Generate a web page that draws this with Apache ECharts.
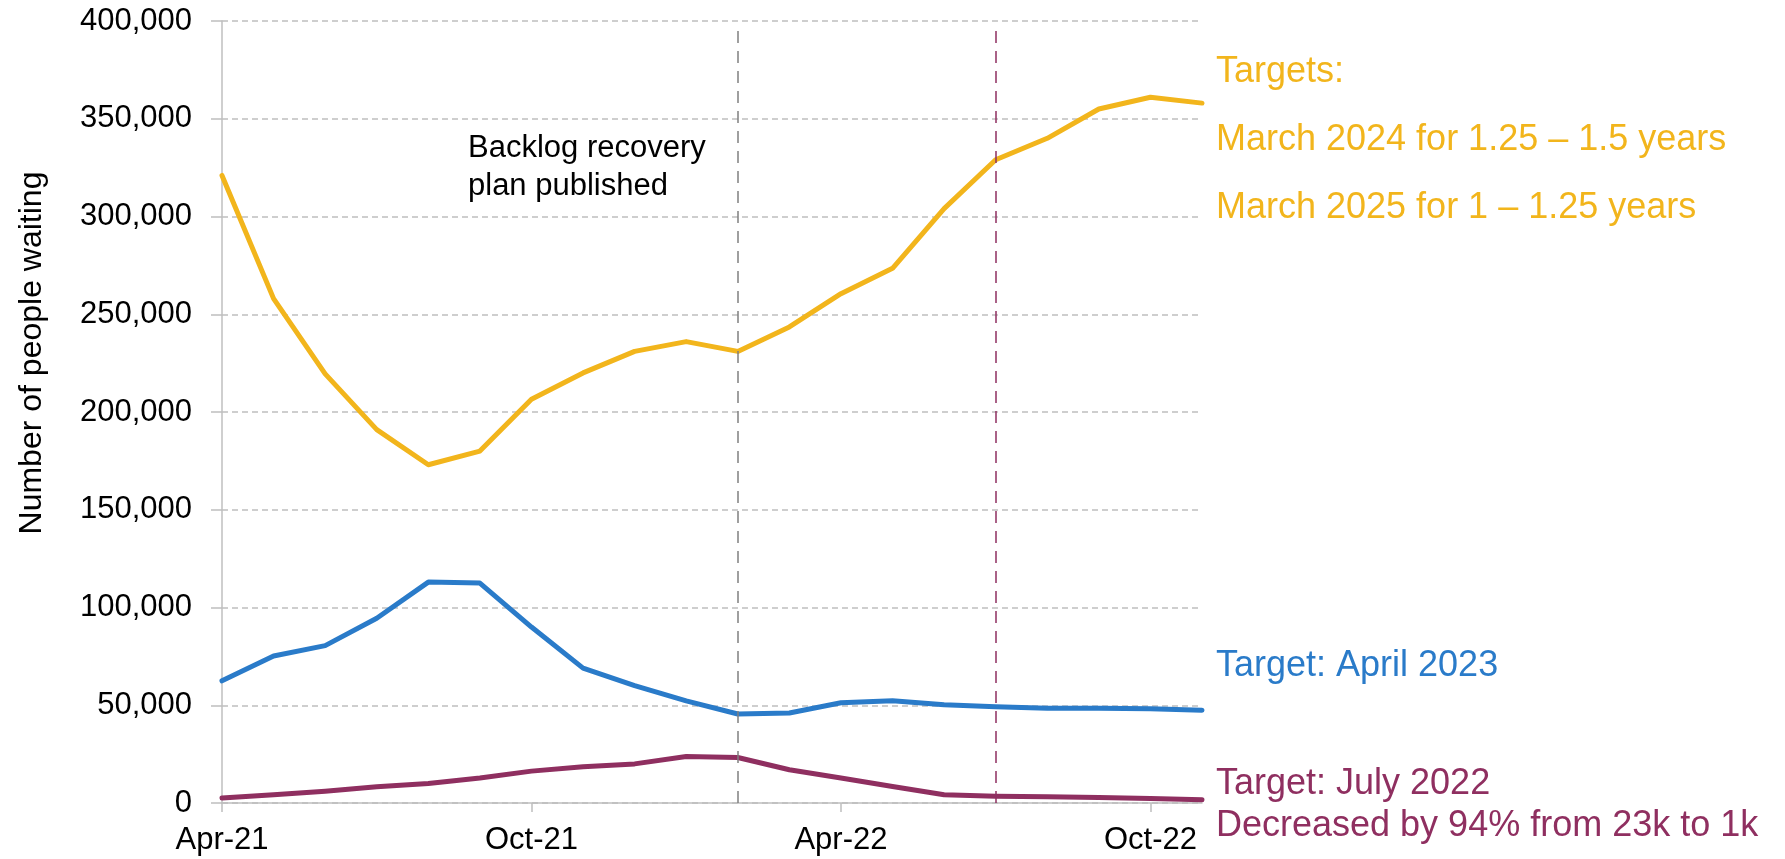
<!DOCTYPE html>
<html>
<head>
    <meta charset="utf-8">
    <script src="https://cdn.jsdelivr.net/npm/echarts@6/dist/echarts.min.js"></script>
    <style>
        html, body {margin: 0; padding: 0; background: #fff;}
        #main {width: 1785px; height: 859px;}
    </style>
</head>
<body>
<div id="main"></div>
<script type="text/javascript">
    // months, Apr-21 .. Nov-22
    var months = ['Apr-21', 'May-21', 'Jun-21', 'Jul-21', 'Aug-21', 'Sep-21', 'Oct-21', 'Nov-21', 'Dec-21', 'Jan-22',
        'Feb-22', 'Mar-22', 'Apr-22', 'May-22', 'Jun-22', 'Jul-22', 'Aug-22', 'Sep-22', 'Oct-22', 'Nov-22'];

    // number of people waiting
    var yellowWaits = [321000, 258000, 219500, 191000, 173000, 180000, 206500, 220000, 231000, 236000,
        231000, 243500, 260500, 273500, 304000, 329000, 340000, 355000, 361000, 358000];
    var blueWaits = [62500, 75200, 80500, 94500, 113000, 112500, 90000, 69000, 60000, 52200,
        45500, 46000, 51300, 52300, 50200, 49200, 48500, 48500, 48200, 47500];
    var maroonWaits = [2500, 4200, 6000, 8300, 10000, 12800, 16300, 18600, 20000, 23800,
        23300, 17000, 12800, 8400, 4200, 3500, 3200, 2800, 2300, 1600];

    var yTicks = [0, 50000, 100000, 150000, 200000, 250000, 300000, 350000, 400000];
    var planMonth = 'Feb-22';
    var julyTargetMonth = 'Jul-22';

    var yellow = '#F2B51C', blue = '#2A7BC9', maroon = '#8F2F60';
    var font = '"Liberation Sans", Arial, sans-serif';

    var myChart = echarts.init(document.getElementById('main'));

    myChart.setOption({
        animation: false,
        grid: {left: 222, right: 583, top: 21, bottom: 56},
        xAxis: {
            type: 'category',
            data: months,
            boundaryGap: false,
            axisLine: {lineStyle: {color: '#BFBFBF', width: 1.5}},
            axisTick: {interval: 5, length: 9, lineStyle: {color: '#BFBFBF', width: 1.5}},
            axisLabel: {interval: 5, margin: 22, color: '#000', fontSize: 31, fontFamily: font},
            splitLine: {show: false}
        },
        yAxis: {
            type: 'value',
            min: yTicks[0],
            max: yTicks[yTicks.length - 1],
            interval: 50000,
            axisLine: {show: true, lineStyle: {color: '#BFBFBF', width: 1.5}},
            axisTick: {show: true, length: 11, lineStyle: {color: '#BFBFBF', width: 1.5}},
            axisLabel: {
                margin: 30, color: '#000', fontSize: 31, fontFamily: font,
                formatter: function (v) { return v.toLocaleString('en-US'); }
            },
            splitLine: {lineStyle: {color: '#BFBFBF', width: 1.5, type: [6, 4]}}
        },
        series: [
            {
                name: 'yellow', type: 'line', data: yellowWaits, symbol: 'none', z: 3,
                lineStyle: {color: yellow, width: 5, cap: 'round', join: 'round'},
                markLine: {
                    silent: true, symbol: 'none', label: {show: false},
                    data: [
                        [{coord: [planMonth, 0], lineStyle: {color: '#808080', width: 1.5, type: [12, 8]}},
                            {coord: [planMonth, 396000]}],
                        [{coord: [julyTargetMonth, 0], lineStyle: {color: maroon, width: 1.5, type: [12, 8]}},
                            {coord: [julyTargetMonth, 396000]}]
                    ]
                }
            },
            {
                name: 'blue', type: 'line', data: blueWaits, symbol: 'none', z: 3,
                lineStyle: {color: blue, width: 5, cap: 'round', join: 'round'}
            },
            {
                name: 'maroon', type: 'line', data: maroonWaits, symbol: 'none', z: 3,
                lineStyle: {color: maroon, width: 5, cap: 'round', join: 'round'}
            }
        ],
        graphic: [
            {
                type: 'text', x: 32, y: 353, rotation: Math.PI / 2,
                style: {text: 'Number of people waiting', fontSize: 32, fontFamily: font, fill: '#000',
                    textAlign: 'center', textVerticalAlign: 'middle'}
            },
            {
                type: 'text', x: 468, y: 167,
                style: {text: 'Backlog recovery\nplan published', fontSize: 31, fontFamily: font, fill: '#000',
                    lineHeight: 38, textAlign: 'left', textVerticalAlign: 'middle'}
            },
            {type: 'text', x: 1216, y: 72, style: {text: 'Targets:', fontSize: 36, fontFamily: font, fill: yellow, textVerticalAlign: 'middle'}},
            {type: 'text', x: 1216, y: 140, style: {text: 'March 2024 for 1.25 – 1.5 years', fontSize: 36, fontFamily: font, fill: yellow, textVerticalAlign: 'middle'}},
            {type: 'text', x: 1216, y: 208, style: {text: 'March 2025 for 1 – 1.25 years', fontSize: 36, fontFamily: font, fill: yellow, textVerticalAlign: 'middle'}},
            {type: 'text', x: 1216, y: 666, style: {text: 'Target: April 2023', fontSize: 36, fontFamily: font, fill: blue, textVerticalAlign: 'middle'}},
            {type: 'text', x: 1216, y: 784, style: {text: 'Target: July 2022', fontSize: 36, fontFamily: font, fill: maroon, textVerticalAlign: 'middle'}},
            {type: 'text', x: 1216, y: 826, style: {text: 'Decreased by 94% from 23k to 1k', fontSize: 36, fontFamily: font, fill: maroon, textVerticalAlign: 'middle'}}
        ]
    });
</script>
</body>
</html>
